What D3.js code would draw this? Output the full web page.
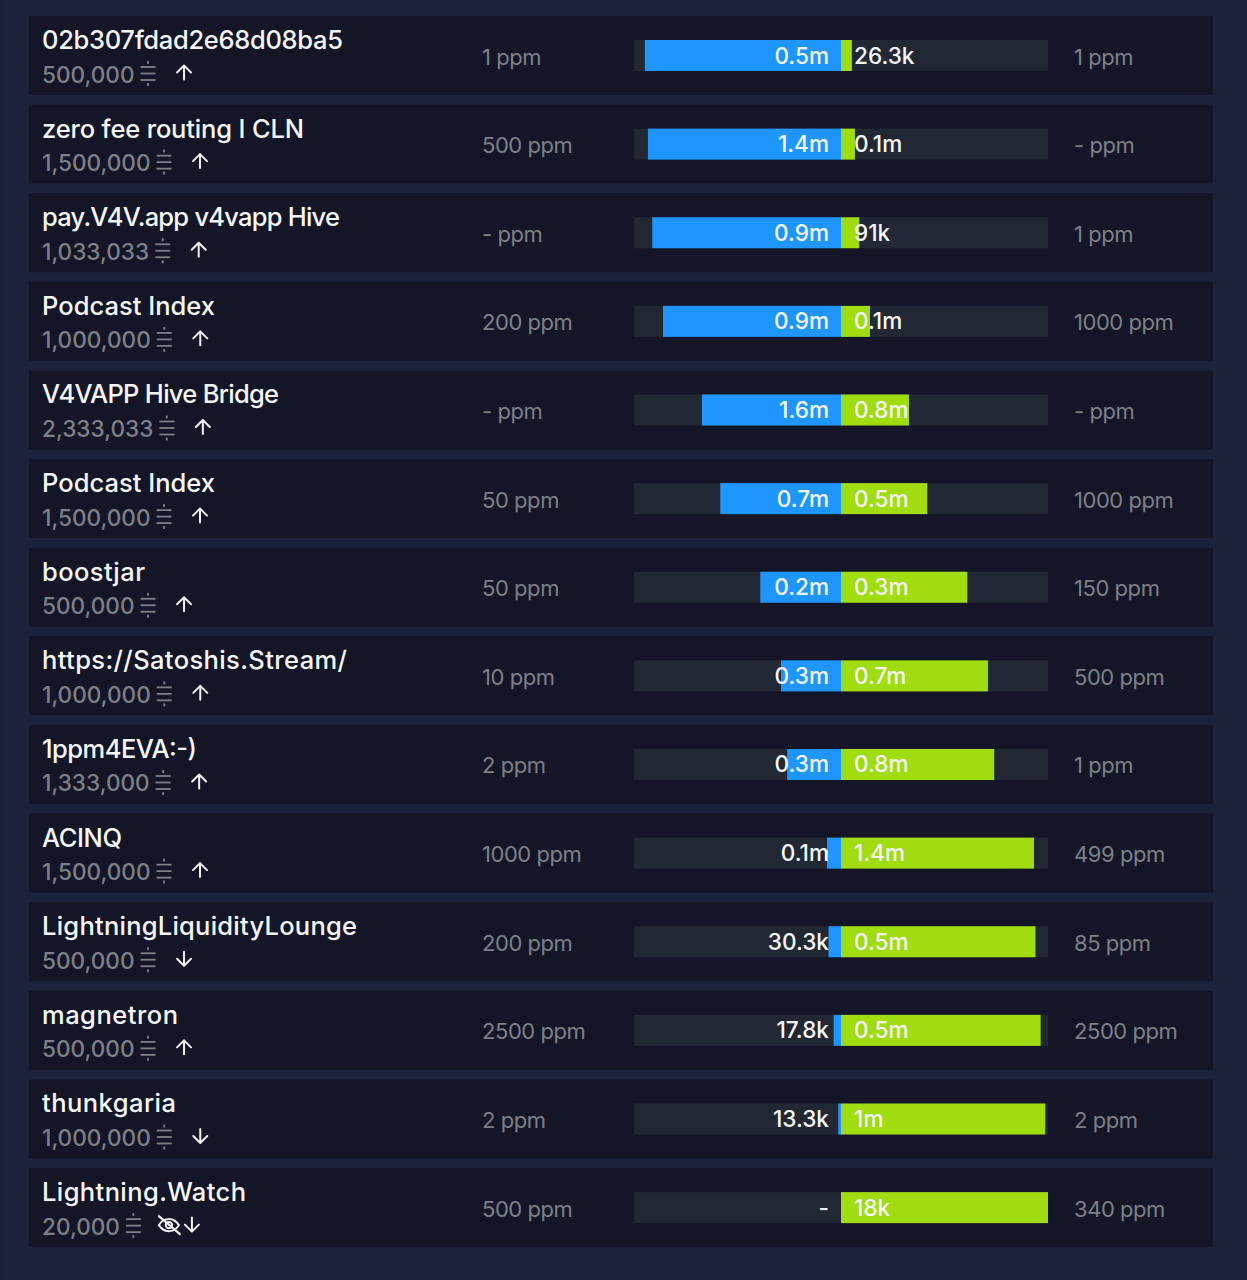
<!DOCTYPE html>
<html><head><meta charset="utf-8">
<script src="https://cdn.jsdelivr.net/npm/d3@7"></script>
<style>
html,body{margin:0;padding:0;background:#1a2137;overflow:hidden}
text{font-family:Inter,"Noto Sans",sans-serif}
</style></head><body>
<svg id="c" width="1247" height="1280"></svg>
<script>
const names=["02b307fdad2e68d08ba5","zero fee routing I CLN","pay.V4V.app v4vapp Hive","Podcast Index","V4VAPP Hive Bridge","Podcast Index","boostjar","https://Satoshis.Stream/","1ppm4EVA:-)","ACINQ","LightningLiquidityLounge","magnetron","thunkgaria","Lightning.Watch"];
const capacity=[500000,1500000,1033033,1000000,2333033,1500000,500000,1000000,1333000,1500000,500000,500000,1000000,20000];
const localSats=[473700,1399000,942033,860000,1567000,700000,195000,290000,290000,100000,30300,17800,13300,0];
const remoteSats=[26300,101000,91000,140000,766000,500000,305000,710000,825000,1380000,469700,482200,986700,18000];
const localLabels=["0.5m","1.4m","0.9m","0.9m","1.6m","0.7m","0.2m","0.3m","0.3m","0.1m","30.3k","17.8k","13.3k","-"];
const remoteLabels=["26.3k","0.1m","91k","0.1m","0.8m","0.5m","0.3m","0.7m","0.8m","1.4m","0.5m","0.5m","1m","18k"];
const localFees=["1 ppm","500 ppm","- ppm","200 ppm","- ppm","50 ppm","50 ppm","10 ppm","2 ppm","1000 ppm","200 ppm","2500 ppm","2 ppm","500 ppm"];
const remoteFees=["1 ppm","- ppm","1 ppm","1000 ppm","- ppm","1000 ppm","150 ppm","500 ppm","1 ppm","499 ppm","85 ppm","2500 ppm","2 ppm","340 ppm"];
const directions=["up","up","up","up","up","up","up","up","up","up","down","up","down","down"];
const hiddenRows=["Lightning.Watch"];

const svg=d3.select("#c");
const C={card:"#141627",track:"#222833",blue:"#1e96fd",green:"#a0dc10",grey:"#7d8088",white:"#f4f6f8",icon:"#f0f2f4"};
const nameWidths=[301,262,298,173,237,173,103,305,155,80,315,136,134,204];
const y=d3.scaleBand().domain(d3.range(names.length)).range([16,1247]).paddingInner(0.11).paddingOuter(0);
const share=d3.scaleLinear().domain([-1,0,1]).range([634,841,1048]);
const nf=d3.format(",");

svg.append("rect").attr("width",1247).attr("height",1280).attr("fill","#1a2137");
svg.append("rect").attr("x",4).attr("width",1237).attr("height",1280).attr("fill","#1b223a");

const rows=svg.selectAll("g.row").data(d3.range(names.length)).join("g").attr("class","row")
  .attr("transform",i=>`translate(0,${y(i)})`);
rows.append("rect").attr("x",29).attr("width",1184).attr("height",y.bandwidth()).attr("fill",C.card);
rows.append("rect").attr("x",share(-1)).attr("y",24).attr("width",share(1)-share(-1)).attr("height",31).attr("fill",C.track);
const tot=i=>localSats[i]+remoteSats[i];
rows.append("rect").attr("x",i=>share(-localSats[i]/tot(i))).attr("y",24)
  .attr("width",i=>share(0)-share(-localSats[i]/tot(i))).attr("height",31).attr("fill",C.blue);
rows.append("rect").attr("x",share(0)).attr("y",24)
  .attr("width",i=>share(remoteSats[i]/tot(i))-share(0)).attr("height",31).attr("fill",C.green);

rows.append("text").attr("x",42).attr("y",33).attr("fill",C.white)
  .attr("font-size",25.5).attr("font-weight",500)
  .attr("textLength",i=>nameWidths[i]).attr("lengthAdjust","spacing").text(i=>names[i]);
const sub=rows.append("text").attr("x",42).attr("y",66.5).attr("fill",C.grey)
  .attr("font-size",22.6).attr("font-weight",500).text(i=>nf(capacity[i]));
rows.append("text").attr("x",829).attr("y",47.5).attr("text-anchor","end").attr("fill",C.white)
  .attr("font-size",22.6).attr("font-weight",500).text(i=>localLabels[i]);
rows.append("text").attr("x",854).attr("y",47.5).attr("fill",C.white)
  .attr("font-size",22.6).attr("font-weight",500).text(i=>remoteLabels[i]);
rows.append("text").attr("x",482).attr("y",48.5).attr("fill",C.grey).attr("font-size",22).attr("letter-spacing",-0.45).text(i=>localFees[i]);
rows.append("text").attr("x",1074).attr("y",48.5).attr("fill",C.grey).attr("font-size",22).attr("letter-spacing",-0.45).text(i=>remoteFees[i]);

sub.each(function(i){
  const end=42+this.getComputedTextLength();
  const g=d3.select(this.parentNode);
  const ic=g.append("g").attr("transform",`translate(${end+6},46)`)
    .attr("stroke",C.grey).attr("stroke-width",1.8).attr("fill","none");
  [5,11.5,18].forEach(v=>ic.append("line").attr("x1",0).attr("x2",15).attr("y1",v).attr("y2",v));
  ic.append("line").attr("x1",7.5).attr("x2",7.5).attr("y1",-1).attr("y2",2);
  ic.append("line").attr("x1",7.5).attr("x2",7.5).attr("y1",21).attr("y2",24);
  const a=g.append("g").attr("transform",`translate(${end+49.5},56.5)`)
    .attr("stroke",C.icon).attr("stroke-width",2).attr("fill","none").attr("stroke-linecap","round").attr("stroke-linejoin","round");
  a.append("path").attr("d",directions[i]==="up"?"M0,7V-7M-7,0L0,-7L7,0":"M0,-7V7M-7,0L0,7L7,0");
  if(hiddenRows.includes(names[i])){
    const e=g.append("g").attr("transform",`translate(${end+49},57)`)
      .attr("stroke",C.icon).attr("stroke-width",2).attr("fill","none").attr("stroke-linecap","round");
    e.append("path").attr("d","M-10,0C-6,-7 4,-9 10,0C6,7 -4,9 -10,0Z");
    e.append("circle").attr("r",3.2);
    e.append("line").attr("x1",-10).attr("y1",-9).attr("x2",11).attr("y2",9);
    a.attr("transform",`translate(${end+72},56.5)`);
  }
});
</script></body></html>
